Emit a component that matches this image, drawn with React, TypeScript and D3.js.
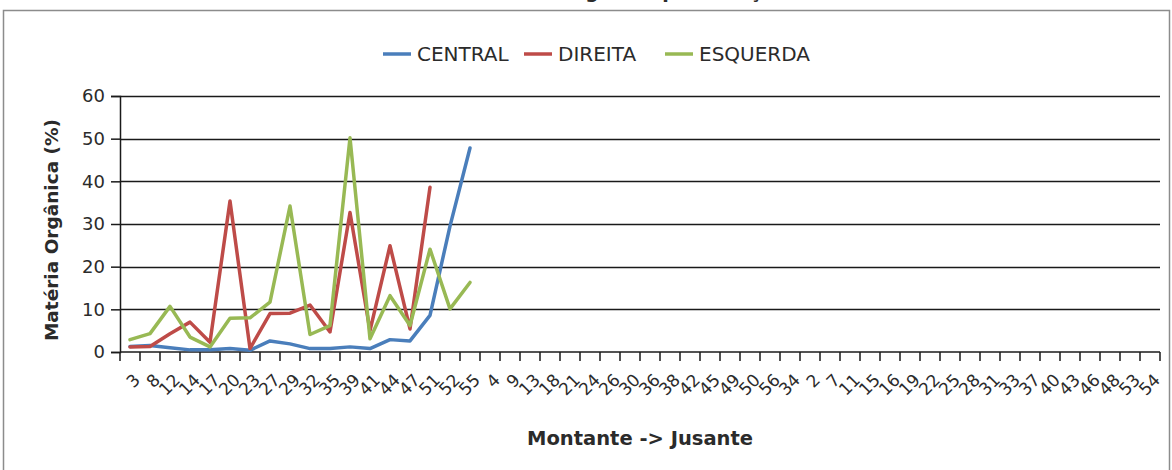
import { useEffect, useRef } from 'react';
import * as d3 from 'd3';

// sample points, upstream -> downstream
const categories = [
  '3', '8', '12', '14', '17', '20', '23', '27', '29', '32', '35', '39', '41', '44', '47', '51', '52', '55',
  '4', '9', '13', '18', '21', '24', '26', '30', '36', '38', '42', '45', '49', '50', '56', '34',
  '2', '7', '11', '15', '16', '19', '22', '25', '28', '31', '33', '37', '40', '43', '46', '48', '53', '54'
];

const central = [1.3, 1.5, 1.0, 0.5, 0.5, 0.8, 0.4, 2.6, 1.9, 0.8, 0.8, 1.2, 0.8, 2.9, 2.6, 8.6, 29.5, 47.8];
const direita = [1.2, 1.3, 4.3, 7.0, 2.3, 35.4, 0.8, 9.0, 9.1, 11.0, 4.7, 32.7, 5.0, 24.9, 5.4, 38.6];
const esquerda = [2.9, 4.3, 10.7, 3.5, 1.2, 7.9, 8.0, 11.7, 34.2, 4.1, 6.2, 50.2, 3.1, 13.2, 6.2, 24.1, 10.1, 16.3];

const yTicks = [0, 10, 20, 30, 40, 50, 60];

const series = [
  { name: 'CENTRAL', values: central, color: '#4a7ebb' },
  { name: 'DIREITA', values: direita, color: '#be4b48' },
  { name: 'ESQUERDA', values: esquerda, color: '#98b954' }
];

const WIDTH = 1172;
const HEIGHT = 470;
const FONT = '"DejaVu Sans", "Liberation Sans", sans-serif';
const INK = '#2b2b2b';

export default function App() {
  const ref = useRef<SVGSVGElement>(null);

  useEffect(() => {
    if (!ref.current) return;
    const svg = d3.select(ref.current);
    svg.selectAll('*').remove();

    const margin = { top: 96, right: 12, bottom: 118, left: 120 };
    const chartCenter = 586;

    const x = d3
      .scaleBand()
      .domain(categories)
      .range([margin.left, WIDTH - margin.right]);

    const y = d3
      .scaleLinear()
      .domain([0, 60])
      .range([HEIGHT - margin.bottom, margin.top]);

    const cx = (i: number) => (x(categories[i]) as number) + x.bandwidth() / 2;

    // chart frame
    svg
      .append('rect')
      .attr('x', 3.5)
      .attr('y', 10.5)
      .attr('width', WIDTH - 6)
      .attr('height', HEIGHT)
      .attr('fill', '#fff')
      .attr('stroke', '#8c8c8c')
      .attr('stroke-width', 1.5);

    // title (cut off at the top of the picture, only its lowest pixels show)
    svg
      .append('text')
      .attr('x', chartCenter)
      .attr('y', -2)
      .attr('text-anchor', 'middle')
      .style('font-family', FONT)
      .style('font-size', 19)
      .style('font-weight', 700)
      .attr('fill', INK)
      .text('Teor de Matéria Orgânica por Posição');

    // horizontal grid
    svg
      .append('g')
      .selectAll('line')
      .data(yTicks.filter(d => d > 0))
      .join('line')
      .attr('x1', margin.left)
      .attr('x2', WIDTH - margin.right)
      .attr('y1', d => Math.round(y(d)) + 0.5)
      .attr('y2', d => Math.round(y(d)) + 0.5)
      .attr('stroke', '#1a1a1a')
      .attr('stroke-width', 1.3);

    // y axis
    const yAxis = svg
      .append('g')
      .attr('transform', `translate(${margin.left},0)`)
      .call(d3.axisLeft(y).tickValues(yTicks).tickSize(9).tickPadding(6));
    yAxis.select('.domain').attr('stroke', '#1a1a1a').attr('stroke-width', 1.5);
    yAxis.selectAll('.tick line').attr('stroke', '#1a1a1a').attr('stroke-width', 1.5);
    yAxis
      .selectAll('.tick text')
      .style('font-family', FONT)
      .style('font-size', 18)
      .attr('fill', INK);

    // x axis: ticks sit between categories
    const xAxisG = svg.append('g');
    xAxisG
      .append('line')
      .attr('x1', margin.left)
      .attr('x2', WIDTH - margin.right)
      .attr('y1', y(0))
      .attr('y2', y(0))
      .attr('stroke', '#1a1a1a')
      .attr('stroke-width', 1.5);
    xAxisG
      .selectAll('line.tick')
      .data(d3.range(categories.length + 1))
      .join('line')
      .attr('class', 'tick')
      .attr('x1', i => margin.left + i * x.step())
      .attr('x2', i => margin.left + i * x.step())
      .attr('y1', y(0))
      .attr('y2', y(0) + 9)
      .attr('stroke', '#1a1a1a')
      .attr('stroke-width', 1.5);
    xAxisG
      .selectAll('text')
      .data(categories)
      .join('text')
      .attr('transform', (_, i) => `translate(${cx(i) + 7},${y(0) + 25}) rotate(-45)`)
      .attr('text-anchor', 'end')
      .attr('dy', '0.35em')
      .style('font-family', FONT)
      .style('font-size', 17)
      .attr('fill', INK)
      .text(d => d);

    // axis titles
    svg
      .append('text')
      .attr('x', (margin.left + WIDTH - margin.right) / 2)
      .attr('y', 445)
      .attr('text-anchor', 'middle')
      .style('font-family', FONT)
      .style('font-size', 19.5)
      .style('font-weight', 700)
      .attr('fill', INK)
      .text('Montante -> Jusante');

    svg
      .append('text')
      .attr('transform', `translate(58,${(y(0) + y(60)) / 2 + 6}) rotate(-90)`)
      .attr('text-anchor', 'middle')
      .style('font-family', FONT)
      .style('font-size', 18.5)
      .style('font-weight', 700)
      .attr('fill', INK)
      .text('Matéria Orgânica (%)');

    // series lines
    const line = d3
      .line<number>()
      .x((_, i) => cx(i))
      .y(d => y(d));

    svg
      .append('g')
      .selectAll('path')
      .data(series)
      .join('path')
      .attr('d', s => line(s.values))
      .attr('fill', 'none')
      .attr('stroke', s => s.color)
      .attr('stroke-width', 3.5)
      .attr('stroke-linejoin', 'round')
      .attr('stroke-linecap', 'round');

    // legend: equal-width columns, like the spreadsheet lays them out
    const legendStart = 383;
    const column = 141;
    const swatch = 28;
    const entries = svg
      .append('g')
      .selectAll('g')
      .data(series)
      .join('g')
      .attr('transform', (_, i) => `translate(${legendStart + i * column},54)`);
    entries
      .append('line')
      .attr('x1', 0)
      .attr('x2', swatch)
      .attr('stroke', s => s.color)
      .attr('stroke-width', 3.5);
    entries
      .append('text')
      .attr('x', swatch + 6)
      .attr('dy', '0.35em')
      .style('font-family', FONT)
      .style('font-size', 20)
      .attr('fill', INK)
      .text(s => s.name);
  }, []);

  return (
    <svg
      ref={ref}
      width={WIDTH}
      height={HEIGHT}
      style={{ position: 'absolute', left: 0, top: 0, display: 'block', background: '#fff' }}
    />
  );
}
